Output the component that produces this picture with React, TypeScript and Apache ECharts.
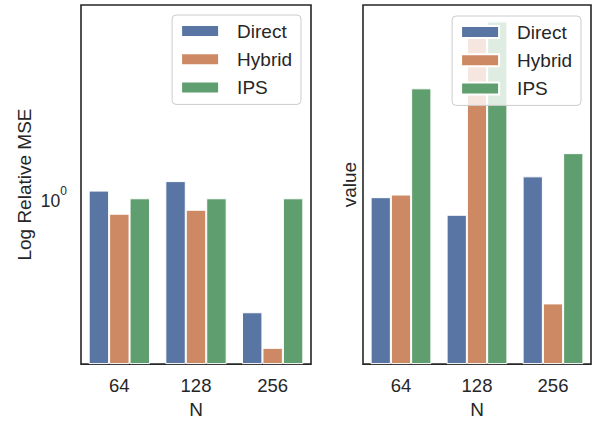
import React, { useEffect, useRef } from "react";
import * as echarts from "echarts";

const categories = ["64", "128", "256"];
const seriesNames = ["Direct", "Hybrid", "IPS"];
const leftDirect = [1.05, 1.115, 0.486];
const leftHybrid = [0.907, 0.93, 0.388];
const leftIPS = [1.0, 1.0, 1.0];
const rightDirect = [1.007, 0.901, 1.149];
const rightHybrid = [1.024, 2.9, 0.514];
const rightIPS = [2.006, 3.063, 1.331];
const yMin = 0.35;
const yMax = 3.4;

const colors = ["#5975a4", "#cc8963", "#5f9e6e"];
const FONT = "'Liberation Sans', Arial, sans-serif";
const TEXT = "#262626";

export default function App() {
  const ref = useRef<HTMLDivElement>(null);
  useEffect(() => {
    if (!ref.current) return;
    const chart = echarts.init(ref.current, null, { renderer: "svg" });
    const leftData = [leftDirect, leftHybrid, leftIPS];
    const rightData = [rightDirect, rightHybrid, rightIPS];
    const mkSeries = (data: number[][], idx: number) =>
      data.map((d, i) => ({
        type: "bar",
        name: seriesNames[i],
        xAxisIndex: idx,
        yAxisIndex: idx,
        data: d,
        barGap: "0%",
        barCategoryGap: "20%",
        itemStyle: { color: colors[i], borderColor: "#ffffff", borderWidth: 1 },
      }));
    const xAxisBase = (gridIndex: number) => ({
      type: "category",
      gridIndex,
      data: categories,
      axisLine: { show: false },
      axisTick: { show: false },
      axisLabel: { color: TEXT, fontSize: 18.5, fontFamily: FONT, margin: 12 },
      name: "N",
      nameLocation: "middle",
      nameGap: 33,
      nameTextStyle: { color: TEXT, fontSize: 19, fontFamily: FONT },
    });
    const yAxisBase = (gridIndex: number) => ({
      type: "log",
      gridIndex,
      min: yMin,
      max: yMax,
      startValue: yMin,
      axisLine: { show: false },
      axisTick: { show: false },
      splitLine: { show: false },
      nameLocation: "middle",
      nameTextStyle: { color: TEXT, fontSize: 19, fontFamily: FONT },
    });
    const legendBase = (right: number, top: number) => ({
      orient: "vertical",
      right,
      top,
      data: seriesNames,
      selectedMode: false,
      icon: "rect",
      itemWidth: 38,
      itemHeight: 12,
      itemGap: 8.2,
      padding: [6, 9, 7, 8],
      backgroundColor: "rgba(255,255,255,0.8)",
      borderColor: "#cccccc",
      borderWidth: 1,
      borderRadius: 4,
      textStyle: {
        color: TEXT,
        fontSize: 19,
        fontFamily: FONT,
        lineHeight: 20,
        padding: [0, 0, 0, 13],
      },
    });
    chart.setOption({
      animation: false,
      backgroundColor: "#ffffff",
      textStyle: { fontFamily: FONT },
      grid: [
        { left: 81, top: 5, width: 230, height: 363, show: true, borderColor: TEXT, borderWidth: 1.6, backgroundColor: "transparent" },
        { left: 363, top: 5, width: 228, height: 363, show: true, borderColor: TEXT, borderWidth: 1.6, backgroundColor: "transparent" },
      ],
      xAxis: [xAxisBase(0), xAxisBase(1)],
      yAxis: [
        {
          ...yAxisBase(0),
          name: "Log Relative MSE",
          nameGap: 47,
          axisLabel: {
            margin: 14,
            formatter: (v: number) => (Math.abs(v - 1) < 1e-6 ? "{a|10}{b|0}" : ""),
            rich: {
              a: { fontSize: 17.5, color: TEXT, fontFamily: FONT, padding: [6, 0, 0, 0] },
              b: { fontSize: 12, color: TEXT, fontFamily: FONT, padding: [0, 0, 15, 0] },
            },
          },
        },
        {
          ...yAxisBase(1),
          name: "value",
          nameGap: 4,
          axisLabel: { show: false },
        },
      ],
      legend: [legendBase(291, 15), legendBase(11, 16)],
      series: [...mkSeries(leftData, 0), ...mkSeries(rightData, 1)],
    });
    return () => chart.dispose();
  }, []);
  return (
    <div
      ref={ref}
      style={{ position: "fixed", left: 0, top: 0, width: 592, height: 424, background: "#fff" }}
    />
  );
}
